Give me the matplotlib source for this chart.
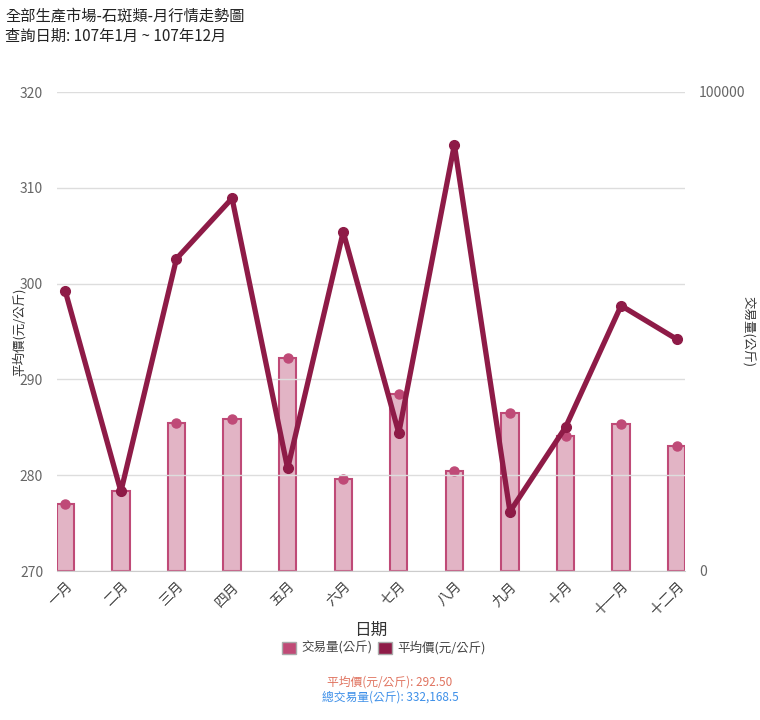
import matplotlib
matplotlib.use("Agg")
import matplotlib.pyplot as plt
from matplotlib.patches import Patch
import numpy as np

plt.rcParams['font.family'] = ['Noto Sans CJK TC', 'DejaVu Sans']

months = ['一月', '二月', '三月', '四月', '五月', '六月', '七月', '八月', '九月', '十月', '十一月', '十二月']
volume = [14000, 16700, 31000, 31800, 44400, 19300, 36900, 20800, 33000, 28100, 30600, 26200]
price = [299.2, 278.3, 302.6, 308.9, 280.7, 305.4, 284.4, 314.5, 276.2, 285.0, 297.7, 294.2]
avg_price = '292.50'
total_volume = '332,168.5'

bar_face = '#e2b4c5'
bar_edge = '#bf4a77'
line_col = '#8e1b47'
tick_col = '#666666'

fig = plt.figure(figsize=(7.6, 7.2), dpi=100)
ax = fig.add_axes([57 / 760, 1 - 571 / 720, 628 / 760, 479 / 720])
ax2 = ax.twinx()

x = np.arange(len(months))

# volume bars on the right axis
ax2.bar(x, volume, width=0.31, color=bar_face, edgecolor=bar_edge, linewidth=1.5, zorder=2)
ax2.plot(x, volume, 'o', color=bar_edge, markersize=6.5, zorder=3)
ax2.set_ylim(0, 100000)
ax2.set_yticks([0, 100000])

# price line on the left axis
ax.plot(x, price, '-o', color=line_col, linewidth=3.8, markersize=7, zorder=5)
ax.set_ylim(270, 320)
ax.set_yticks(np.arange(270, 321, 10))
ax.set_xlim(-0.15, 11.15)
ax.set_xticks(x)
ax.set_xticklabels(months, rotation=45, ha='right', va='top', rotation_mode='anchor')
ax.grid(axis='y', color='#dddddd', linewidth=1)
ax.set_axisbelow(True)
ax.set_zorder(ax2.get_zorder() + 1)
ax.patch.set_visible(False)

for a in (ax, ax2):
    for s in a.spines.values():
        s.set_visible(False)
    a.tick_params(length=0, colors=tick_col, labelsize=10)
ax.spines['bottom'].set_visible(True)
ax.spines['bottom'].set_color('#cccccc')
ax.tick_params(axis='y', pad=10)
ax2.tick_params(axis='y', pad=10)
ax.tick_params(axis='x', pad=6, labelcolor='#444444')

ax.set_ylabel('平均價(元/公斤)', fontsize=9, color='#333333')
ax.yaxis.set_label_coords(-0.05, 0.5)
ax2.set_ylabel('交易量(公斤)', fontsize=9, color='#333333', rotation=-90, va='center')
ax2.yaxis.set_label_coords(1.1, 0.5)
ax.set_xlabel('日期', fontsize=12, color='#333333', labelpad=2)

fig.text(5 / 760, 1 - 16 / 720, '全部生產市場-石斑類-月行情走勢圖', fontsize=11, va='center', color='#222222')
fig.text(5 / 760, 1 - 36 / 720, '查詢日期: 107年1月 ~ 107年12月', fontsize=11, va='center', color='#222222')

handles = [Patch(facecolor='#c04a76', edgecolor='#aaaaaa'), Patch(facecolor=line_col, edgecolor='#aaaaaa')]
fig.legend(handles, ['交易量(公斤)', '平均價(元/公斤)'], loc='center', bbox_to_anchor=(384 / 760, 1 - 648 / 720),
           ncol=2, frameon=False, fontsize=9, handlelength=1.1, handleheight=1.1, columnspacing=0.5,
           handletextpad=0.4, labelcolor='#444444')

fig.text(390 / 760, 1 - 682 / 720, '平均價(元/公斤): ' + avg_price, fontsize=8.5, ha='center', va='center', color='#e0735f')
fig.text(390 / 760, 1 - 697 / 720, '總交易量(公斤): ' + total_volume, fontsize=8.5, ha='center', va='center', color='#3d8fe8')

fig.savefig('out.png', dpi=100)
